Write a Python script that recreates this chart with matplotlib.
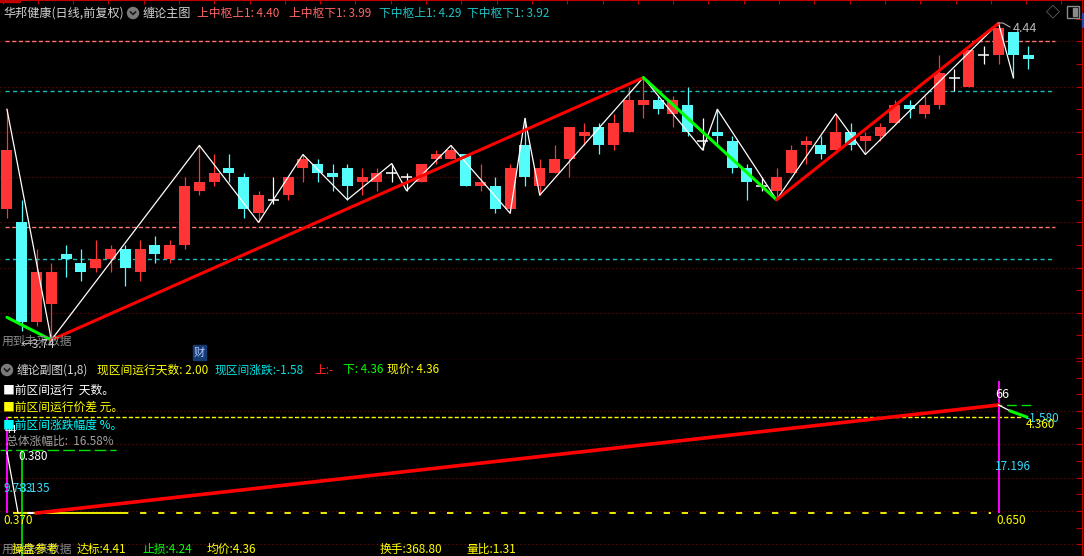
"""
plot.py
Chan-theory (缠论) daily K-line chart for 华邦健康, drawn in the dark
terminal style: main K-line panel with strokes / segments / pivot levels,
plus the 缠论副图 sub panel.
"""

import numpy as np
import matplotlib
matplotlib.use("Agg")
import matplotlib.pyplot as plt
from matplotlib.patches import Rectangle, Circle

plt.rcParams['font.family'] = ['Noto Sans CJK SC', 'DejaVu Sans']

W, H = 1084, 556

# ── K-line data (70 daily bars) ──
opens = [4.03, 4.00, 3.78, 3.82, 3.93, 3.91, 3.90, 3.92, 3.94, 3.89,
         3.95, 3.92, 3.95, 4.07, 4.09, 4.12, 4.10, 4.02, 4.05, 4.06,
         4.12, 4.13, 4.11, 4.12, 4.09, 4.09, 4.11, 4.10, 4.09, 4.14,
         4.14, 4.15, 4.08, 4.08, 4.03, 4.17, 4.08, 4.11, 4.14, 4.19,
         4.21, 4.17, 4.20, 4.26, 4.27, 4.24, 4.26, 4.18, 4.20, 4.18,
         4.12, 4.08, 4.07, 4.11, 4.17, 4.17, 4.16, 4.20, 4.18, 4.19,
         4.22, 4.26, 4.24, 4.26, 4.32, 4.30, 4.37, 4.37, 4.42, 4.37]
highs = [4.25, 4.05, 3.94, 3.91, 3.95, 3.94, 3.96, 3.95, 3.95, 3.96,
         3.97, 3.96, 4.10, 4.17, 4.15, 4.15, 4.11, 4.07, 4.10, 4.10,
         4.15, 4.14, 4.13, 4.13, 4.12, 4.12, 4.13, 4.11, 4.13, 4.16,
         4.17, 4.15, 4.13, 4.10, 4.13, 4.23, 4.14, 4.17, 4.21, 4.22,
         4.22, 4.24, 4.30, 4.32, 4.28, 4.28, 4.30, 4.23, 4.25, 4.19,
         4.13, 4.10, 4.12, 4.17, 4.19, 4.19, 4.24, 4.22, 4.20, 4.22,
         4.27, 4.27, 4.28, 4.37, 4.34, 4.38, 4.39, 4.44, 4.42, 4.39]
lows = [4.01, 3.76, 3.77, 3.74, 3.88, 3.87, 3.89, 3.89, 3.86, 3.87,
        3.91, 3.91, 3.94, 4.06, 4.08, 4.09, 4.01, 4.00, 4.04, 4.05,
        4.09, 4.09, 4.07, 4.05, 4.06, 4.07, 4.09, 4.07, 4.09, 4.13,
        4.14, 4.08, 4.07, 4.02, 4.02, 4.08, 4.06, 4.11, 4.10, 4.17,
        4.15, 4.16, 4.20, 4.23, 4.24, 4.21, 4.19, 4.16, 4.17, 4.11,
        4.05, 4.07, 4.05, 4.11, 4.13, 4.14, 4.16, 4.16, 4.15, 4.18,
        4.22, 4.23, 4.23, 4.25, 4.29, 4.30, 4.35, 4.35, 4.32, 4.34]
closes = [4.16, 3.78, 3.89, 3.89, 3.92, 3.89, 3.92, 3.94, 3.90, 3.94,
          3.93, 3.95, 4.08, 4.09, 4.11, 4.11, 4.03, 4.06, 4.05, 4.10,
          4.14, 4.11, 4.10, 4.08, 4.10, 4.11, 4.11, 4.10, 4.13, 4.15,
          4.16, 4.08, 4.09, 4.03, 4.12, 4.10, 4.12, 4.14, 4.21, 4.20,
          4.17, 4.22, 4.27, 4.27, 4.25, 4.27, 4.20, 4.18, 4.19, 4.12,
          4.09, 4.08, 4.10, 4.16, 4.18, 4.15, 4.20, 4.17, 4.19, 4.21,
          4.26, 4.25, 4.26, 4.33, 4.32, 4.38, 4.37, 4.43, 4.37, 4.36]

# ── Chan structures ──
stroke_idx = [0, 3, 13, 17, 20, 23, 26, 27, 30, 34, 35, 36, 43, 47, 48, 52, 56, 58, 67, 68]
stroke_val = [4.25, 3.74, 4.17, 4.00, 4.15, 4.05, 4.13, 4.07, 4.17, 4.02,
              4.23, 4.06, 4.32, 4.16, 4.25, 4.05, 4.24, 4.15, 4.44, 4.32]
segment_idx = [0, 3, 43, 52, 67]
segment_val = [3.79, 3.74, 4.32, 4.05, 4.44]
segment_up = [False, True, False, True]

upper_pivot = [4.40, 3.99]     # 上中枢 上/下
lower_pivot = [4.29, 3.92]     # 下中枢 上/下
pivot_span = [-0.1, 70.8]
price_grid = [3.80, 3.90, 4.00, 4.10, 4.20, 4.30, 4.40]

# ── Sub panel (缠论副图), in grid units ──
sub_grid = [-1, 0, 1, 2, 3]
sub_red_x = [2, 67]
sub_red_y = [-0.06, 3.18]
sub_now_level = 2.82           # 4.360
sub_base_level = -0.06         # 0.370 / 0.650
sub_left_level = 1.83
sub_peak_level = 3.18
sub_white_l_x = [0, 0.75]
sub_white_l_y = [1.77, -0.06]
sub_white_r_x = [67, 67.8]
sub_white_r_y = [3.18, 3.0]
sub_green_r_x = [67.8, 68.9]
sub_green_r_y = [3.0, 2.82]
sub_mag_r = [67, 3.90, -0.06]
sub_mag_l = [0, 2.82, -0.06]
sub_green_v = [1, 1.83, -1.4]

RED = "#ff3434"
CYAN = "#54fcfc"
GRID = "#800000"
AXIS = "#c00000"

fig = plt.figure(figsize=(W / 100, H / 100), dpi=100, facecolor="black")
split = 360 / H
xlim = (-0.47, 72.64)

ax = fig.add_axes([0, 1 - split, 1082 / W, split])
ax_sub = fig.add_axes([0, 0, 1082 / W, 1 - split])
for a in (ax, ax_sub):
    a.set_facecolor("black")
    a.set_xlim(*xlim)
    for s in a.spines.values():
        s.set_color(AXIS)
    a.spines["left"].set_visible(False)

ax.set_ylim(3.6957, 4.4915)
ax_sub.set_ylim(-1.35, 4.53)
ax_sub.spines["top"].set_visible(False)
ax_sub.spines["bottom"].set_visible(False)

# ticks on right axis line and top border
ax.yaxis.tick_right()
ax.set_yticks(np.arange(3.70, 4.46, 0.05))
ax.tick_params(axis="y", direction="in", length=4, colors=AXIS, labelright=False)
ax.set_xticks(np.arange(-0.3, 72, 2.385))
ax.tick_params(axis="x", top=True, bottom=False, direction="in", length=3,
               colors=AXIS, labeltop=False, labelbottom=False)
ax_sub.yaxis.tick_right()
ax_sub.set_yticks(np.arange(-1.0, 4.6, 0.5))
ax_sub.tick_params(axis="y", direction="in", length=4, colors=AXIS, labelright=False)
ax_sub.set_xticks([])

# ── main panel ──
for g in price_grid:
    ax.axhline(g, color=GRID, lw=0.9, ls=(0, (1, 2.2)), zorder=1)

for lv in upper_pivot:
    ax.hlines(lv, *pivot_span, color="#ff7373", lw=1, ls=(0, (3, 1.8)), zorder=2)
for lv in lower_pivot:
    ax.hlines(lv, *pivot_span, color="#1fbcbc", lw=1, ls=(0, (3, 2.4)), zorder=2)

x = np.arange(len(opens))
bw = 0.743
for i in x:
    o, h, l, c = opens[i], highs[i], lows[i], closes[i]
    if c > o:
        col = RED
    elif c < o:
        col = CYAN
    else:
        col = "white"
    ax.vlines(i, l, h, color=col, lw=0.9, zorder=3)
    if col == "white":
        ax.hlines(o, i - bw / 2, i + bw / 2, color=col, lw=1.1, zorder=3)
    else:
        ax.bar(i, abs(c - o), bottom=min(o, c), width=bw, color=col,
               edgecolor=col, lw=0, zorder=3)

ax.plot(stroke_idx, stroke_val, color="white", lw=0.9, zorder=4)
for k, up in enumerate(segment_up):
    ax.plot(segment_idx[k:k + 2], segment_val[k:k + 2],
            color="#ff0000" if up else "#00ff00", lw=2.2, zorder=5,
            solid_capstyle="round")

# ── sub panel ──
for g in sub_grid:
    ax_sub.axhline(g, color=GRID, lw=0.9, ls=(0, (1, 2.2)), zorder=1)

ax_sub.hlines(sub_now_level, 0, 68.6, color="#ffff00", lw=1, ls=(0, (3, 1.6)), zorder=2)
ax_sub.hlines(sub_base_level, 0.4, 7.8, color="#ffff00", lw=1.3, zorder=2)
ax_sub.hlines(sub_base_level, 7.8, 66.5, color="#ffff00", lw=1.3, ls=(0, (3.5, 6.5)), zorder=2)
ax_sub.hlines(sub_left_level, -0.47, 7.4, color="#00e000", lw=1, ls=(0, (8.4, 2.9)), zorder=2)
ax_sub.hlines(sub_peak_level, 66.55, 69.46, color="#00e000", lw=1, ls=(0, (7, 3.5)), zorder=2)

ax_sub.vlines(sub_mag_l[0], sub_mag_l[2], sub_mag_l[1], color="#ff00ff", lw=1.4, zorder=3)
ax_sub.vlines(sub_mag_r[0], sub_mag_r[2], sub_mag_r[1], color="#ff00ff", lw=1.4, zorder=3)
ax_sub.vlines(sub_green_v[0], sub_green_v[2], sub_green_v[1], color="#00ff00", lw=1.1, zorder=3)

ax_sub.plot(sub_white_l_x, sub_white_l_y, color="white", lw=0.9, zorder=4)
ax_sub.hlines(sub_base_level, 1.35, 1.76, color="white", lw=1.5, zorder=4)
ax_sub.plot(sub_red_x, sub_red_y, color="#ff0000", lw=2.6, zorder=4)
ax_sub.plot(sub_white_r_x, sub_white_r_y, color="white", lw=0.9, zorder=4)
ax_sub.plot(sub_green_r_x, sub_green_r_y, color="#00ff00", lw=2.2, zorder=4)

# ── overlay in pixel units for text and small icons ──
ov = fig.add_axes([0, 0, 1, 1], facecolor="none")
ov.set_xlim(0, W)
ov.set_ylim(H, 0)
ov.axis("off")


def label(px, py, s, color, size=8.5, **kw):
    ov.text(px, py, s, color=color, fontsize=size, ha="left", va="center", **kw)


def drop_icon(px, py):
    ov.add_patch(Circle((px, py), 5.5, color="#7a7a7a", zorder=6))
    ov.plot([px - 2.5, px, px + 2.5], [py - 1, py + 1.5, py - 1],
            color="#1a1a1a", lw=1.2, zorder=7)


# main header
ov.add_patch(Rectangle((0, 0), 20, 2, color=AXIS))
label(3, 13, "华邦健康(日线,前复权)", "#d2d2d2", size=8.7)
drop_icon(133, 13)
label(143, 13, "缠论主图", "#d2d2d2", size=8.7)
label(197, 13, "上中枢上1: 4.40", "#ff6464")
label(289, 13, "上中枢下1: 3.99", "#ff6464")
label(379, 13, "下中枢上1: 4.29", "#1fc4c4")
label(467, 13, "下中枢下1: 3.92", "#1fc4c4")

# top-right icons
label(1046, 12, "◇", "#8a8a8a", size=10)
ov.add_patch(Rectangle((1067, 6), 12, 12, fill=False, ec="#8a8a8a", lw=1))
ov.add_patch(Rectangle((1073, 8), 4, 8, color="#8a8a8a"))
ov.add_patch(Rectangle((1082, 13), 2, 14, color="#2848b0"))

# peak / trough marks
ov.plot([998, 1003, 1010], [23, 23, 27], color="#b0b0b0", lw=0.8)
label(1013, 29, "4.44", "#b4b4b4", size=9)
label(2, 341, "用到未来数据", "#8c8c8c")
label(21, 345, "←3.74", "#c8c8c8", size=8.5)
ov.add_patch(Rectangle((193, 345), 13, 15, color="#163a72", zorder=6))
ov.text(199.5, 352.5, "财", color="#b0ccff", fontsize=8, ha="center", va="center", zorder=7)

# sub header
drop_icon(7, 370)
label(17, 370, "缠论副图(1,8)", "#d2d2d2")
label(97, 370, "现区间运行天数: 2.00", "#ffff00")
label(215, 370, "现区间涨跌:-1.58", "#00e4e4")
label(314, 370, "上:-", "#ff2020")
label(343, 370, "下: 4.36", "#00ff00")
label(387, 370, "现价: 4.36", "#ffff00")

label(3, 390, "■前区间运行  天数。", "#ffffff")
label(3, 407, "■前区间运行价差 元。", "#ffff00")
label(5, 430, "44", "#ffffff", size=8)
label(3, 425, "■前区间涨跌幅度 %。", "#00ffff")
label(6, 441, "总体涨幅比:  16.58%", "#a0a0a0")
label(18, 457, "0.380", "#ffffff")
label(3, 489, "9.783", "#38d8f8")
label(16, 489, "-3.135", "#38d8f8")
label(3, 521, "0.370", "#ffff00")

label(995, 395, "66", "#ffffff", size=9)
label(1025, 418, "-1.580", "#38d8f8")
label(1026, 424, "4.360", "#ffff00")
label(995, 467, "17.196", "#38d8f8")
label(996, 521, "0.650", "#ffff00")

# bottom info line
label(2, 549, "用到未来数据", "#8c8c8c")
label(12, 549, "操盘参考", "#ffff00")
label(77, 549, "达标:4.41", "#ffff00")
label(142, 549, "止损:4.24", "#00ff00")
label(207, 549, "均价:4.36", "#ffff00")
label(380, 549, "换手:368.80", "#ffff00")
label(466, 549, "量比:1.31", "#ffff00")

fig.savefig("out.png", dpi=100, facecolor="black")
